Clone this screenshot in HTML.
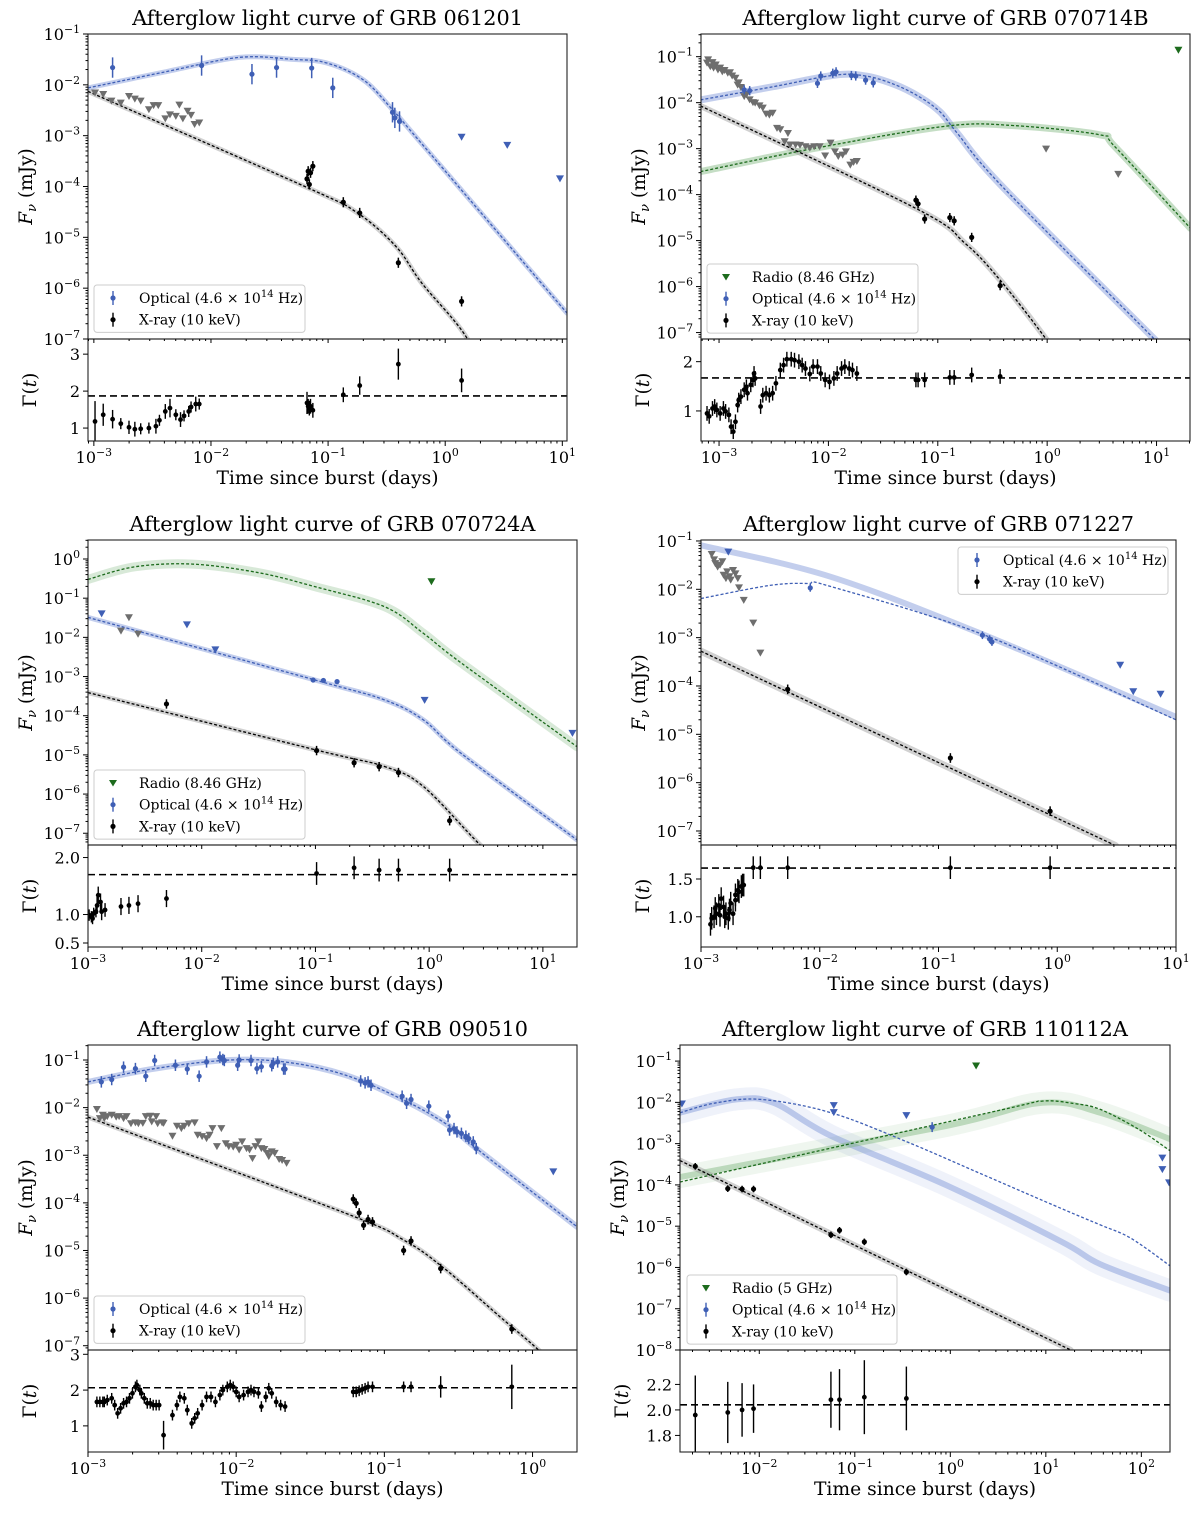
<!DOCTYPE html>
<html><head><meta charset="utf-8"><title>GRB afterglow light curves</title>
<style>
html,body{margin:0;padding:0;background:#fff;}
svg{display:block;font-family:"DejaVu Serif","Liberation Serif",serif;}
</style></head>
<body>
<svg id="fig" xmlns="http://www.w3.org/2000/svg" width="1200" height="1514" viewBox="0 0 1200 1514"></svg>
<script>
// ===== DATA (all values in log10: [log t(days), log F(mJy)] ; gamma: [log t, Γ, err]) =====
// Panel 1 GRB 061201
const p1_optModel=[[-3.05,-2.06],[-2.4,-1.75],[-1.76,-1.46],[-1.3,-1.5],[-1.01,-1.57],[-0.7,-1.9],[-0.45,-2.49],[-0.2,-3.16],[1.04,-6.49]];
const p1_xrayModel=[[-3.05,-2.13],[-1.17,-4.03],[-0.75,-4.52],[-0.42,-5.18],[-0.2,-5.9],[0.19,-7.0],[0.4,-8.2]];
const p1_optPts=[[-2.84,-1.66],[-2.08,-1.62],[-1.65,-1.79],[-1.44,-1.66],[-1.14,-1.67],[-0.96,-2.06],[-0.45,-2.54],[-0.43,-2.65],[-0.39,-2.72]];
const p1_optLim=[[0.14,-3.03],[0.53,-3.19],[0.98,-3.85]];
const p1_grayLim=[[-2.99,-2.16],[-2.92,-2.19],[-2.85,-2.32],[-2.77,-2.36],[-2.70,-2.23],[-2.65,-2.28],[-2.60,-2.32],[-2.53,-2.49],[-2.49,-2.41],[-2.45,-2.41],[-2.39,-2.67],[-2.35,-2.59],[-2.30,-2.62],[-2.27,-2.40],[-2.24,-2.67],[-2.20,-2.52],[-2.17,-2.60],[-2.14,-2.78],[-2.10,-2.75]];
const p1_xrayPts=[[-1.18,-3.85],[-1.17,-3.70],[-1.16,-3.96],[-1.15,-3.73],[-1.13,-3.60],[-0.87,-4.31],[-0.73,-4.52],[-0.40,-5.50],[0.14,-6.26]];
const p1_gamma=[[-2.99,1.18,0.55],[-2.92,1.36,0.3],[-2.84,1.24,0.25],[-2.77,1.12,0.15],[-2.70,1.02,0.18],[-2.65,0.97,0.2],[-2.60,0.98,0.15],[-2.53,1.0,0.15],[-2.47,1.05,0.2],[-2.44,1.21,0.15],[-2.39,1.45,0.2],[-2.35,1.54,0.25],[-2.30,1.36,0.15],[-2.26,1.23,0.2],[-2.23,1.33,0.15],[-2.19,1.45,0.15],[-2.17,1.57,0.15],[-2.13,1.65,0.2],[-2.10,1.65,0.15],[-1.18,1.68,0.3],[-1.17,1.59,0.2],[-1.16,1.54,0.2],[-1.15,1.59,0.2],[-1.13,1.48,0.2],[-0.87,1.90,0.2],[-0.73,2.15,0.25],[-0.40,2.73,0.42],[0.14,2.29,0.32]];
const p1_gammaFit=[1.87];

// Panel 2 GRB 070714B
const p2_optModel=[[-3.17,-1.94],[-2.5,-1.65],[-1.94,-1.40],[-1.66,-1.42],[-1.4,-1.6],[-1.17,-1.87],[-0.98,-2.2],[-0.82,-2.67],[-0.40,-3.85],[0.98,-7.14],[1.4,-8.2]];
const p2_radioModel=[[-3.17,-3.50],[-2.12,-2.99],[-0.92,-2.51],[-0.3,-2.5],[0.48,-2.70],[0.62,-2.96],[1.31,-4.73]];
const p2_xrayModel=[[-3.17,-2.07],[-1.20,-4.30],[-0.75,-5.06],[-0.43,-5.86],[-0.01,-7.14],[0.3,-8.2]];
const p2_optPts=[[-2.77,-1.72],[-2.72,-1.74],[-2.10,-1.58],[-2.07,-1.42],[-1.96,-1.36],[-1.93,-1.33],[-1.79,-1.41],[-1.75,-1.42],[-1.66,-1.51],[-1.59,-1.57]];
const p2_radioLim=[[1.20,-0.86]];
const p2_grayLim=[[-3.11,-1.14],[-3.10,-1.07],[-3.08,-1.22],[-3.06,-1.13],[-3.05,-1.25],[-3.03,-1.18],[-3.01,-1.29],[-2.99,-1.25],[-2.97,-1.33],[-2.95,-1.30],[-2.92,-1.36],[-2.90,-1.35],[-2.88,-1.42],[-2.85,-1.47],[-2.83,-1.62],[-2.82,-1.57],[-2.80,-1.67],[-2.77,-1.87],[-2.75,-1.83],[-2.72,-1.94],[-2.69,-2.00],[-2.67,-2.01],[-2.63,-2.07],[-2.60,-2.12],[-2.57,-2.25],[-2.54,-2.27],[-2.51,-2.23],[-2.47,-2.56],[-2.44,-2.59],[-2.37,-2.67],[-2.40,-2.85],[-2.35,-2.92],[-2.30,-2.92],[-2.26,-2.93],[-2.21,-2.96],[-2.17,-2.99],[-2.13,-2.96],[-2.08,-2.96],[-2.03,-3.16],[-1.98,-2.88],[-1.94,-3.07],[-1.91,-3.17],[-1.87,-3.14],[-1.84,-3.07],[-1.80,-3.36],[-1.77,-3.30],[-1.74,-3.28],[-0.01,-3.01],[0.65,-3.56]];
const p2_xrayPts=[[-1.20,-4.12],[-1.18,-4.20],[-1.12,-4.53],[-0.89,-4.50],[-0.85,-4.57],[-0.69,-4.93],[-0.43,-5.98]];
const p2_gamma=[[-3.11,0.95],[-3.09,0.89],[-3.06,1.05],[-3.04,1.09],[-3.02,1.02],[-2.99,0.95],[-2.96,1.05],[-2.94,0.99],[-2.91,0.92],[-2.89,0.68],[-2.87,0.58],[-2.85,0.78],[-2.83,1.12],[-2.82,1.22],[-2.80,1.29],[-2.77,1.43],[-2.75,1.49],[-2.74,1.36],[-2.71,1.53],[-2.69,1.63],[-2.68,1.76],[-2.67,1.66],[-2.62,1.09],[-2.60,1.32],[-2.57,1.36],[-2.54,1.32],[-2.51,1.36],[-2.48,1.56],[-2.44,1.83],[-2.41,1.93],[-2.38,2.05],[-2.34,2.05],[-2.31,2.03],[-2.27,2.0],[-2.24,1.93],[-2.21,1.86],[-2.17,1.75],[-2.14,1.90],[-2.10,1.90],[-2.07,1.76],[-2.03,1.63],[-1.99,1.59],[-1.95,1.66],[-1.92,1.76],[-1.88,1.86],[-1.85,1.90],[-1.81,1.86],[-1.78,1.83],[-1.74,1.76],[-1.20,1.63],[-1.18,1.63],[-1.12,1.63],[-0.89,1.68],[-0.85,1.68],[-0.69,1.73],[-0.43,1.70]];
const p2_gammaFit=[1.67];

// Panel 3 GRB 070724A
const p3_radioModel=[[-3,-0.52],[-2.59,-0.20],[-2.08,-0.13],[-1.5,-0.35],[-1.0,-0.71],[-0.39,-1.22],[-0.05,-1.90],[0.28,-2.65],[1.30,-4.79]];
const p3_optModel=[[-3,-1.49],[-1.0,-3.09],[-0.39,-3.60],[-0.05,-4.11],[0.28,-4.96],[1.30,-7.17]];
const p3_xrayModel=[[-3,-3.41],[-1,-4.87],[-0.39,-5.30],[-0.05,-5.81],[0.45,-7.30],[0.8,-8.2]];
const p3_optPts=[[-1.02,-3.09],[-0.93,-3.10],[-0.81,-3.13]];
const p3_optLim=[[-2.88,-1.40],[-2.13,-1.68],[-1.88,-2.32],[-0.04,-3.61],[1.26,-4.45]];
const p3_radioLim=[[0.02,-0.58]];
const p3_grayLim=[[-2.71,-1.84],[-2.64,-1.50],[-2.56,-1.92]];
const p3_xrayPts=[[-2.31,-3.70],[-0.99,-4.89],[-0.66,-5.20],[-0.44,-5.30],[-0.27,-5.45],[0.18,-6.68]];
const p3_gamma=[[-2.99,0.99,0.1],[-2.97,0.96,0.1],[-2.96,0.93,0.1],[-2.95,1.02,0.1],[-2.93,1.05,0.1],[-2.92,1.16,0.15],[-2.91,1.34,0.15],[-2.89,1.22,0.15],[-2.88,1.05,0.15],[-2.85,1.08,0.12],[-2.71,1.14,0.15],[-2.64,1.16,0.15],[-2.56,1.19,0.15],[-2.31,1.28,0.15],[-0.99,1.72,0.2],[-0.66,1.82,0.2],[-0.44,1.78,0.2],[-0.27,1.78,0.2],[0.18,1.78,0.2]];
const p3_gammaFit=[1.70];

// Panel 4 GRB 071227
const p4_optModel=[[-3,-1.09],[-1.91,-1.74],[-0.61,-2.95],[1,-4.64]];
const p4_optDash=[[-3,-2.19],[-2.42,-1.92],[-2.10,-1.88],[-1.91,-1.94],[-0.61,-2.95],[1,-4.70]];
const p4_xrayModel=[[-3,-3.28],[0.49,-7.30]];
const p4_optPts=[[-2.08,-1.97],[-0.63,-2.95],[-0.57,-3.03],[-0.55,-3.09]];
const p4_optLim=[[-2.77,-1.23],[0.53,-3.57],[0.64,-4.12],[0.87,-4.17]];
const p4_grayLim=[[-2.91,-1.28],[-2.89,-1.39],[-2.88,-1.47],[-2.86,-1.54],[-2.84,-1.50],[-2.82,-1.43],[-2.81,-1.71],[-2.79,-1.78],[-2.78,-1.64],[-2.76,-1.74],[-2.75,-1.81],[-2.73,-1.61],[-2.71,-1.68],[-2.69,-1.78],[-2.68,-1.97],[-2.64,-2.23],[-2.56,-2.70],[-2.50,-3.32]];
const p4_xrayPts=[[-2.27,-4.07],[-0.90,-5.49],[-0.06,-6.59]];
const p4_gamma=[[-2.92,0.90],[-2.91,0.98],[-2.89,1.0],[-2.88,1.11],[-2.87,1.04],[-2.85,1.15],[-2.84,1.02],[-2.83,1.24],[-2.81,1.13],[-2.80,1.0],[-2.79,1.04],[-2.77,0.98],[-2.76,1.09],[-2.75,1.18],[-2.73,1.04],[-2.71,1.22],[-2.71,1.29],[-2.69,1.35],[-2.68,1.33],[-2.66,1.40],[-2.65,1.42],[-2.64,1.42],[-2.56,1.65],[-2.50,1.65],[-2.27,1.65],[-0.90,1.65],[-0.06,1.65]];
const p4_gammaFit=[1.645];

// Panel 5 GRB 090510
const p5_optModel=[[-3,-1.46],[-2.55,-1.18],[-2.04,-1.0],[-1.65,-1.05],[-1.26,-1.32],[-0.87,-1.84],[-0.57,-2.37],[-0.35,-2.93],[0.30,-4.50]];
const p5_xrayModel=[[-3,-2.20],[-1.26,-4.22],[-0.87,-4.78],[-0.61,-5.34],[-0.22,-6.39],[0.04,-7.09],[0.3,-7.9]];
const p5_optPts=[[-2.91,-1.46],[-2.84,-1.41],[-2.76,-1.15],[-2.68,-1.18],[-2.61,-1.34],[-2.55,-1.01],[-2.41,-1.11],[-2.33,-1.19],[-2.25,-1.34],[-2.20,-1.04],[-2.11,-0.94],[-2.09,-0.99],[-2.08,-1.01],[-1.99,-1.11],[-1.98,-1.0],[-1.90,-1.01],[-1.86,-1.18],[-1.83,-1.14],[-1.76,-1.12],[-1.75,-1.07],[-1.72,-1.04],[-1.68,-1.19],[-1.67,-1.19],[-1.16,-1.44],[-1.13,-1.48],[-1.11,-1.46],[-1.09,-1.53],[-0.88,-1.76],[-0.85,-1.91],[-0.82,-1.83],[-0.70,-1.97],[-0.57,-2.18],[-0.56,-2.47],[-0.53,-2.44],[-0.51,-2.51],[-0.48,-2.54],[-0.45,-2.60],[-0.43,-2.65],[-0.40,-2.72],[-0.38,-2.86]];
const p5_optLim=[[0.14,-3.35]];
const p5_grayLim=[[-2.94,-2.04],[-2.92,-2.23],[-2.90,-2.16],[-2.89,-2.23],[-2.87,-2.19],[-2.84,-2.16],[-2.81,-2.20],[-2.79,-2.19],[-2.76,-2.23],[-2.74,-2.19],[-2.71,-2.34],[-2.68,-2.32],[-2.66,-2.34],[-2.63,-2.33],[-2.61,-2.19],[-2.58,-2.18],[-2.57,-2.30],[-2.54,-2.19],[-2.53,-2.34],[-2.50,-2.32],[-2.49,-2.33],[-2.43,-2.60],[-2.40,-2.39],[-2.37,-2.44],[-2.35,-2.39],[-2.32,-2.34],[-2.28,-2.32],[-2.26,-2.58],[-2.23,-2.61],[-2.20,-2.65],[-2.18,-2.58],[-2.16,-2.44],[-2.13,-2.82],[-2.10,-2.44],[-2.07,-2.76],[-2.05,-2.82],[-2.02,-2.83],[-2.00,-2.79],[-1.98,-2.89],[-1.96,-2.72],[-1.93,-2.86],[-1.91,-2.89],[-1.89,-3.07],[-1.87,-2.82],[-1.85,-2.72],[-1.83,-2.86],[-1.81,-2.88],[-1.79,-2.96],[-1.78,-3.03],[-1.76,-2.93],[-1.74,-2.96],[-1.71,-3.09],[-1.69,-3.11],[-1.66,-3.17]];
const p5_xrayPts=[[-1.21,-3.92],[-1.19,-4.01],[-1.17,-4.21],[-1.14,-4.47],[-1.11,-4.35],[-1.08,-4.40],[-0.87,-5.0],[-0.82,-4.80],[-0.62,-5.38],[-0.14,-6.65]];
const p5_gamma=[[-2.94,1.67],[-2.92,1.67],[-2.90,1.67],[-2.89,1.67],[-2.87,1.72],[-2.84,1.77],[-2.82,1.58],[-2.80,1.35],[-2.78,1.49],[-2.76,1.63],[-2.74,1.67],[-2.72,1.77],[-2.70,1.91],[-2.68,2.09],[-2.67,2.14],[-2.65,2.0],[-2.64,1.91],[-2.62,1.77],[-2.60,1.63],[-2.58,1.63],[-2.56,1.58],[-2.54,1.58],[-2.52,1.58],[-2.49,0.74,0.4],[-2.43,1.30],[-2.40,1.58],[-2.38,1.81],[-2.35,1.77],[-2.33,1.44],[-2.30,1.07],[-2.28,1.21],[-2.26,1.35],[-2.23,1.58],[-2.20,1.81],[-2.17,1.81],[-2.14,1.67],[-2.11,1.86],[-2.09,2.0],[-2.06,2.09],[-2.04,2.14],[-2.02,2.09],[-2.0,1.95],[-1.98,1.81],[-1.95,1.86],[-1.92,1.95],[-1.90,2.0],[-1.88,1.95],[-1.85,1.91],[-1.83,1.54],[-1.80,1.81],[-1.78,2.05],[-1.76,1.91],[-1.73,1.67],[-1.70,1.58],[-1.67,1.54],[-1.21,1.95],[-1.19,1.95],[-1.17,1.98],[-1.15,2.02],[-1.13,2.05],[-1.11,2.09],[-1.08,2.09],[-0.87,2.09],[-0.82,2.09],[-0.62,2.09,0.3],[-0.14,2.09,0.62]];
const p5_gammaFit=[2.065];

// Panel 6 GRB 110112A
const p6_optModel=[[-2.83,-2.25],[-2.25,-1.93],[-1.85,-2.01],[-1.25,-2.81],[-0.04,-4.01],[1.16,-5.37],[1.57,-5.92],[2.30,-6.56]];
const p6_optDash=[[-2.83,-2.25],[-2.45,-2.01],[-1.97,-1.93],[-1.25,-2.25],[-0.44,-2.97],[0.36,-3.77],[1.16,-4.57],[1.57,-4.97],[1.89,-5.29],[2.30,-5.96]];
const p6_radioModel=[[-2.83,-3.81],[-0.04,-2.57],[0.96,-2.01],[1.57,-2.25],[2.30,-2.89]];
const p6_radioDash=[[-2.83,-3.93],[0.5,-2.2],[0.96,-1.97],[1.3,-2.03],[1.57,-2.17],[1.97,-2.65],[2.30,-3.17]];
const p6_xrayModel=[[-2.83,-3.41],[1.26,-8.0]];
const p6_optPts=[[-0.19,-2.60]];
const p6_optLim=[[-2.81,-2.04],[-1.22,-2.08],[-1.22,-2.25],[-0.46,-2.32],[2.22,-3.35],[2.22,-3.63],[2.29,-3.95]];
const p6_radioLim=[[0.27,-1.12]];
const p6_xrayPts=[[-2.67,-3.55],[-2.33,-4.09],[-2.18,-4.10],[-2.06,-4.10],[-1.25,-5.21],[-1.16,-5.10],[-0.90,-5.38],[-0.46,-6.11]];
const p6_gamma=[[-2.67,1.96,0.31],[-2.33,1.98,0.24],[-2.18,2.0,0.21],[-2.06,2.01,0.19],[-1.25,2.08,0.22],[-1.16,2.08,0.24],[-0.90,2.10,0.29],[-0.46,2.09,0.25]];
const p6_gammaFit=[2.04];

// ===== RENDERING =====
const NS='http://www.w3.org/2000/svg';
const svg=document.getElementById('fig');
function mk(tag,attrs,parent){const e=document.createElementNS(NS,tag);for(const k in attrs)e.setAttribute(k,attrs[k]);parent.appendChild(e);return e;}
const BLUE='#3f5fb5', BLUEB='#7b93d6', GREEN='#1d6b1d', GREENB='#7fb57f', GRAYB='#9a9a9a', TRI='#6e6e6e';
let clipN=0;

function supText(parent,x,y,base,exp,anchor,size){
  const t=mk('text',{x:x,y:y,'text-anchor':anchor,'font-size':size,fill:'#000'},parent);
  t.appendChild(document.createTextNode(base));
  const s=mk('tspan',{dy:-7,'font-size':size*0.68},t);
  s.textContent=exp;
  return t;
}
function lbl(d){return (d<0?'\u2212':'')+Math.abs(d);}

function panel(cfg){
  const g=mk('g',{},svg);
  
  
  const X=v=>cfg.L+(v-cfg.x0)/(cfg.x1-cfg.x0)*(cfg.R-cfg.L);
  const Y=v=>cfg.T+(cfg.y1-v)/(cfg.y1-cfg.y0)*(cfg.S-cfg.T);
  const G=v=>cfg.S+(cfg.g1-v)/(cfg.g1-cfg.g0)*(cfg.B-cfg.S);
  const defs=mk('defs',{},g);
  const c1='c'+(clipN++), c2='c'+(clipN++);
  const cp1=mk('clipPath',{id:c1},defs); mk('rect',{x:cfg.L,y:cfg.T,width:cfg.R-cfg.L,height:cfg.S-cfg.T},cp1);
  const cp2=mk('clipPath',{id:c2},defs); mk('rect',{x:cfg.L,y:cfg.S,width:cfg.R-cfg.L,height:cfg.B-cfg.S},cp2);
  const tt=mk('text',{x:(cfg.L+cfg.R)/2,y:cfg.T-9,'text-anchor':'middle','font-size':20.8},g);
  tt.textContent=cfg.title;
  
  
  const main=mk('g',{'clip-path':'url(#'+c1+')'},g);
  
  
  const path=arr=>{
    const P=arr.map(p=>[X(p[0]),Y(p[1])]);
    let d='M'+P[0][0].toFixed(1)+','+P[0][1].toFixed(1);
    for(let i=0;i<P.length-1;i++){
      const p0=P[i-1]||P[i], p1=P[i], p2=P[i+1], p3=P[i+2]||P[i+1];
      const c1x=p1[0]+(p2[0]-p0[0])/6, c1y=p1[1]+(p2[1]-p0[1])/6;
      const c2x=p2[0]-(p3[0]-p1[0])/6, c2y=p2[1]-(p3[1]-p1[1])/6;
      d+=` C${c1x.toFixed(1)},${c1y.toFixed(1)} ${c2x.toFixed(1)},${c2y.toFixed(1)} ${p2[0].toFixed(1)},${p2[1].toFixed(1)}`;
    }
    return d;
  };
  (cfg.bands||[]).forEach(b=>{
    const p=mk('path',{d:path(b.data),fill:'none',stroke:b.color,'stroke-width':b.w||5,'stroke-opacity':b.op||0.45,'stroke-linejoin':'round','stroke-linecap':'round'},main);
    
    
  });
  (cfg.dashes||[]).forEach(b=>{
    const p=mk('path',{d:path(b.data),fill:'none',stroke:b.color,'stroke-width':1.3,'stroke-dasharray':'3,2'},main);
    
    
  });
  (cfg.tris||[]).forEach(s=>{
    s.data.forEach(p=>{
      const x=X(p[0]),y=Y(p[1]);
      const t=mk('path',{d:`M${x-4},${y-3.5} L${x+4},${y-3.5} L${x},${y+3.5} Z`,fill:s.color},main);
      
      
    });
  });
  (cfg.pts||[]).forEach(s=>{
    s.data.forEach(p=>{
      const x=X(p[0]),e=p[2]||s.err;
      const ln=mk('line',{x1:x,x2:x,y1:Y(p[1]+e),y2:Y(p[1]-e),stroke:s.color,'stroke-width':1.5},main);
      
      
      const c=mk('circle',{cx:x,cy:Y(p[1]),r:2.6,fill:s.color},main);
      
      
    });
  });
  const gm=mk('g',{'clip-path':'url(#'+c2+')'},g);
  
  
  const gy=G(cfg.gfit[0]);
  const fl=mk('line',{x1:cfg.L,x2:cfg.R,y1:gy,y2:gy,stroke:'#000','stroke-width':1.6,'stroke-dasharray':'7,4'},gm);
  
  
  cfg.gamma.forEach(p=>{
    const x=X(p[0]),e=p[2]||cfg.gerr;
    const ln=mk('line',{x1:x,x2:x,y1:G(p[1]+e),y2:G(p[1]-e),stroke:'#000','stroke-width':1.4},gm);
    
    
    const c=mk('circle',{cx:x,cy:G(p[1]),r:2.4,fill:'#000'},gm);
    
    
  });
  const f1=mk('rect',{x:cfg.L,y:cfg.T,width:cfg.R-cfg.L,height:cfg.S-cfg.T,fill:'none',stroke:'#222','stroke-width':1.1},g);
  
  
  const f2=mk('rect',{x:cfg.L,y:cfg.S,width:cfg.R-cfg.L,height:cfg.B-cfg.S,fill:'none',stroke:'#222','stroke-width':1.1},g);
  
  
  const ax=mk('g',{stroke:'#000','stroke-width':1},g);
  
  
  for(let d=Math.floor(cfg.y0);d<=cfg.y1;d++){
    for(let m=1;m<10;m++){
      const v=d+Math.log10(m); if(v<cfg.y0-1e-6||v>cfg.y1+1e-6) continue;
      mk('line',{x1:cfg.L-(m==1?5:2.5),x2:cfg.L,y1:Y(v),y2:Y(v)},ax);
    }
    if(d>=cfg.y0-1e-6){
      const t=supText(g,cfg.L-8,Y(d)+6,'10',lbl(d),'end',16);
      
      
    }
  }
  for(let d=Math.floor(cfg.x0);d<=cfg.x1;d++){
    for(let m=1;m<10;m++){
      const v=d+Math.log10(m); if(v<cfg.x0-1e-6||v>cfg.x1+1e-6) continue;
      mk('line',{x1:X(v),x2:X(v),y1:cfg.B,y2:cfg.B+(m==1?5:2.5)},ax);
      mk('line',{x1:X(v),x2:X(v),y1:cfg.S,y2:cfg.S+(m==1?4:2)},ax);
    }
    if(d>=cfg.x0-1e-6){
      const t=supText(g,X(d),cfg.B+22,'10',lbl(d),'middle',16);
      
      
    }
  }
  cfg.gt.forEach((v,i)=>{
    mk('line',{x1:cfg.L-5,x2:cfg.L,y1:G(v),y2:G(v)},ax);
    const t=mk('text',{x:cfg.L-8,y:G(v)+6,'text-anchor':'end','font-size':16},g);
    t.textContent=cfg.gl[i];
    
    
  });
  const yl=mk('text',{transform:`translate(${cfg.L-56},${(cfg.T+cfg.S)/2}) rotate(-90)`,'text-anchor':'middle','font-size':18.5},g);
  
  
  const fi=mk('tspan',{'font-style':'italic'},yl); fi.textContent='F';
  const sb=mk('tspan',{dy:4,'font-size':13,'font-style':'italic'},yl); sb.textContent='\u03bd';
  const rest=mk('tspan',{dy:-4},yl); rest.textContent=' (mJy)';
  const gl=mk('text',{transform:`translate(${cfg.L-52},${(cfg.S+cfg.B)/2}) rotate(-90)`,'text-anchor':'middle','font-size':18.5},g);
  
  
  gl.appendChild(document.createTextNode('\u0393('));
  const it=mk('tspan',{'font-style':'italic'},gl); it.textContent='t';
  gl.appendChild(document.createTextNode(')'));
  const xl=mk('text',{x:(cfg.L+cfg.R)/2,y:cfg.B+43,'text-anchor':'middle','font-size':18.7},g);
  xl.textContent='Time since burst (days)';
  
  
  const lg=cfg.legend;
  const lgG=mk('g',{},g);
  
  
  mk('rect',{x:lg.x,y:lg.y,width:lg.w,height:lg.entries.length*21.7+4,rx:3,fill:'#fff','fill-opacity':0.85,stroke:'#ccc','stroke-width':1},lgG);
  lg.entries.forEach((en,i)=>{
    const y=lg.y+13+i*21.7;
    const mx=lg.x+19;
    if(en.type==='tri'){
      mk('path',{d:`M${mx-4},${y-3} L${mx+4},${y-3} L${mx},${y+3.5} Z`,fill:en.color},lgG);
    }else{
      mk('line',{x1:mx,x2:mx,y1:y-7,y2:y+7,stroke:en.color,'stroke-width':1.4},lgG);
      mk('circle',{cx:mx,cy:y,r:2.6,fill:en.color},lgG);
    }
    const t=mk('text',{x:lg.x+45,y:y+5,'font-size':14},lgG);
    
    
    if(en.label==='opt'){
      t.appendChild(document.createTextNode('Optical (4.6 \u00d7 10'));
      const s=mk('tspan',{dy:-6,'font-size':10},t); s.textContent='14';
      const r=mk('tspan',{dy:6},t); r.textContent=' Hz)';
    }else t.textContent=en.label;
  });
}
const LOPT={type:'err',color:BLUE,label:'opt'}, LX={type:'err',color:'#000',label:'X-ray (10 keV)'};
const LR8={type:'tri',color:GREEN,label:'Radio (8.46 GHz)'}, LR5={type:'tri',color:GREEN,label:'Radio (5 GHz)'};

panel({name:'panel-grb-061201',title:'Afterglow light curve of GRB 061201',L:88,R:567,T:34,S:339,B:441,x0:-3.05,x1:1.04,y0:-7,y1:-1,g0:0.65,g1:3.41,gt:[1,2,3],gl:['1','2','3'],gerr:0.2,
  bands:[{name:'optical-model-band',data:p1_optModel,color:BLUEB},{name:'xray-model-band',data:p1_xrayModel,color:GRAYB}],
  dashes:[{name:'optical-model',data:p1_optModel,color:BLUE},{name:'xray-model',data:p1_xrayModel,color:'#000'}],
  tris:[{name:'xray-upper-limit',data:p1_grayLim,color:TRI},{name:'optical-upper-limit',data:p1_optLim,color:BLUE}],
  pts:[{name:'optical-point',data:p1_optPts,color:BLUE,err:0.2},{name:'xray-point',data:p1_xrayPts,color:'#000',err:0.1}],
  gamma:p1_gamma,gfit:p1_gammaFit,legend:{x:94,y:285,w:211,entries:[LOPT,LX]}});

panel({name:'panel-grb-070714b',title:'Afterglow light curve of GRB 070714B',L:701,R:1190,T:34,S:339,B:441,x0:-3.165,x1:1.306,y0:-7.14,y1:-0.507,g0:0.39,g1:2.46,gt:[1,2],gl:['1','2'],gerr:0.15,
  bands:[{name:'optical-model-band',data:p2_optModel,color:BLUEB,w:7},{name:'radio-model-band',data:p2_radioModel,color:GREENB,w:7},{name:'xray-model-band',data:p2_xrayModel,color:GRAYB,w:6}],
  dashes:[{name:'optical-model',data:p2_optModel,color:BLUE},{name:'radio-model',data:p2_radioModel,color:GREEN},{name:'xray-model',data:p2_xrayModel,color:'#000'}],
  tris:[{name:'xray-upper-limit',data:p2_grayLim,color:TRI},{name:'radio-upper-limit',data:p2_radioLim,color:GREEN}],
  pts:[{name:'optical-point',data:p2_optPts,color:BLUE,err:0.1},{name:'xray-point',data:p2_xrayPts,color:'#000',err:0.1}],
  gamma:p2_gamma,gfit:p2_gammaFit,legend:{x:707,y:264,w:211,entries:[LR8,LOPT,LX]}});

panel({name:'panel-grb-070724a',title:'Afterglow light curve of GRB 070724A',L:88,R:577,T:540,S:845,B:947,x0:-3,x1:1.30,y0:-7.3,y1:0.485,g0:0.43,g1:2.22,gt:[0.5,1.0,2.0],gl:['0.5','1.0','2.0'],gerr:0.12,
  bands:[{name:'radio-model-band',data:p3_radioModel,color:GREENB,w:9,op:0.3},{name:'optical-model-band',data:p3_optModel,color:BLUEB,w:5},{name:'xray-model-band',data:p3_xrayModel,color:GRAYB,w:5}],
  dashes:[{name:'radio-model',data:p3_radioModel,color:GREEN},{name:'optical-model',data:p3_optModel,color:BLUE},{name:'xray-model',data:p3_xrayModel,color:'#000'}],
  tris:[{name:'xray-upper-limit',data:p3_grayLim,color:TRI},{name:'optical-upper-limit',data:p3_optLim,color:BLUE},{name:'radio-upper-limit',data:p3_radioLim,color:GREEN}],
  pts:[{name:'optical-point',data:p3_optPts,color:BLUE,err:0.04},{name:'xray-point',data:p3_xrayPts,color:'#000',err:0.12}],
  gamma:p3_gamma,gfit:p3_gammaFit,legend:{x:94,y:770,w:211,entries:[LR8,LOPT,LX]}});

panel({name:'panel-grb-071227',title:'Afterglow light curve of GRB 071227',L:701,R:1176,T:540,S:845,B:947,x0:-3,x1:1,y0:-7.29,y1:-0.98,g0:0.6,g1:1.95,gt:[1.0,1.5],gl:['1.0','1.5'],gerr:0.15,
  bands:[{name:'optical-model-band',data:p4_optModel,color:BLUEB,w:6},{name:'xray-model-band',data:p4_xrayModel,color:GRAYB,w:7}],
  dashes:[{name:'optical-model',data:p4_optDash,color:BLUE},{name:'xray-model',data:p4_xrayModel,color:'#000'}],
  tris:[{name:'xray-upper-limit',data:p4_grayLim,color:TRI},{name:'optical-upper-limit',data:p4_optLim,color:BLUE}],
  pts:[{name:'optical-point',data:p4_optPts,color:BLUE,err:0.08},{name:'xray-point',data:p4_xrayPts,color:'#000',err:0.1}],
  gamma:p4_gamma,gfit:p4_gammaFit,legend:{x:958,y:547,w:210,entries:[LOPT,LX]}});

panel({name:'panel-grb-090510',title:'Afterglow light curve of GRB 090510',L:88,R:577,T:1045,S:1350,B:1452,x0:-3,x1:0.30,y0:-7.09,y1:-0.685,g0:0.27,g1:3.12,gt:[1,2,3],gl:['1','2','3'],gerr:0.15,
  bands:[{name:'optical-model-band',data:p5_optModel,color:BLUEB,w:6},{name:'xray-model-band',data:p5_xrayModel,color:GRAYB,w:5}],
  dashes:[{name:'optical-model',data:p5_optModel,color:BLUE},{name:'xray-model',data:p5_xrayModel,color:'#000'}],
  tris:[{name:'xray-upper-limit',data:p5_grayLim,color:TRI},{name:'optical-upper-limit',data:p5_optLim,color:BLUE}],
  pts:[{name:'optical-point',data:p5_optPts,color:BLUE,err:0.12},{name:'xray-point',data:p5_xrayPts,color:'#000',err:0.1}],
  gamma:p5_gamma,gfit:p5_gammaFit,legend:{x:94,y:1296,w:211,entries:[LOPT,LX]}});

panel({name:'panel-grb-110112a',title:'Afterglow light curve of GRB 110112A',L:680,R:1170,T:1045,S:1350,B:1452,x0:-2.83,x1:2.30,y0:-8,y1:-0.61,g0:1.67,g1:2.47,gt:[1.8,2.0,2.2],gl:['1.8','2.0','2.2'],gerr:0.2,
  bands:[{name:'optical-model-spread',data:p6_optModel,color:BLUEB,w:22,op:0.12},{name:'radio-model-spread',data:p6_radioModel,color:GREENB,w:22,op:0.12},{name:'optical-model-band',data:p6_optModel,color:BLUEB,w:6,op:0.45},{name:'radio-model-band',data:p6_radioModel,color:GREENB,w:6,op:0.45},{name:'xray-model-band',data:p6_xrayModel,color:GRAYB,w:6}],
  dashes:[{name:'optical-model',data:p6_optDash,color:BLUE},{name:'radio-model',data:p6_radioDash,color:GREEN},{name:'xray-model',data:p6_xrayModel,color:'#000'}],
  tris:[{name:'optical-upper-limit',data:p6_optLim,color:BLUE},{name:'radio-upper-limit',data:p6_radioLim,color:GREEN}],
  pts:[{name:'optical-point',data:p6_optPts,color:BLUE,err:0.12},{name:'xray-point',data:p6_xrayPts,color:'#000',err:0.08}],
  gamma:p6_gamma,gfit:p6_gammaFit,legend:{x:687,y:1275,w:210,entries:[LR5,LOPT,LX]}});
</script>
</body></html>
